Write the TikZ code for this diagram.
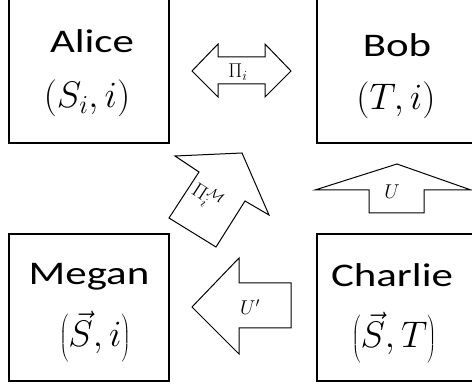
\RequirePackage{fix-cm}
\documentclass[tikz,border=0pt]{standalone}
\usepackage{fontspec}
\usepackage{graphicx}
\newfontfamily\namefont{Carlito}
\tikzset{
  box/.style={draw=black, line width=1.2pt},
  blockarrow/.style={draw=black, line width=1pt, line join=miter, fill=white},
  pname/.style={anchor=base, inner sep=0pt, font=\namefont\fontsize{33}{40}\selectfont},
  pmath/.style={anchor=base, inner sep=0pt, font=\fontsize{37}{40}\selectfont},
  alabel/.style={inner sep=0pt, font=\fontsize{20}{24}\selectfont},
}
\begin{document}
\begin{tikzpicture}[x=1pt, y=-1pt]
\useasboundingbox (0,0) rectangle (472,385);
% boxes
\draw[box] (9,-5) rectangle (169,143);
\draw[box] (317,-5) rectangle (478,143);
\draw[box] (9,234) rectangle (169,381);
\draw[box] (317,234) rectangle (478,381);
% names and states
\node[pname] (alice) at (92,53) {\scalebox{1.3}[1]{Alice}};
\node[pmath] (alicem) at (87,108) {$(S_i,i)$};
\node[pname] (bob) at (397,57) {\scalebox{1.3}[1]{Bob}};
\node[pmath] (bobm) at (396,110) {$(T,i)$};
\node[pname] (megan) at (89,285) {\scalebox{1.3}[1]{Megan}};
\node[pmath] (meganm) at (95,347) {$\left(\vec{S},i\right)$};
\node[pname] (charlie) at (392,287) {\scalebox{1.3}[1]{Charlie}};
\node[pmath] (charliem) at (394,348) {$\left(\vec{S},T\right)$};
% double arrow Pi_i
\draw[blockarrow] (192,71) -- (218,44) -- (218,57) -- (265,57) -- (265,44) -- (291,71)
  -- (265,97) -- (265,84) -- (218,84) -- (218,97) -- cycle;
\node[alabel] (pi) at (238,72) {$\Pi_i$};
% up arrow U
\draw[blockarrow] (397,164) -- (471,190) -- (424,190) -- (424,213) -- (369,213) -- (369,190) -- (315,190) -- cycle;
\node[alabel] (u) at (392,192) {$U$};
% left arrow U'
\draw[blockarrow] (192,307) -- (239,258) -- (239,283) -- (291,283) -- (291,328) -- (239,328) -- (239,354) -- cycle;
\node[alabel] (up) at (250,307) {$U'$};
% tilted arrow Pi_i^M
\draw[blockarrow] (169,218) -- (216,247) -- (245,201) -- (269,215) -- (242,153) -- (175,156) -- (199,172) -- cycle;
\node[alabel, rotate=-33] (pim) at (207,197) {$\Pi_i^{\mathcal{M}}$};
\end{tikzpicture}
\end{document}
